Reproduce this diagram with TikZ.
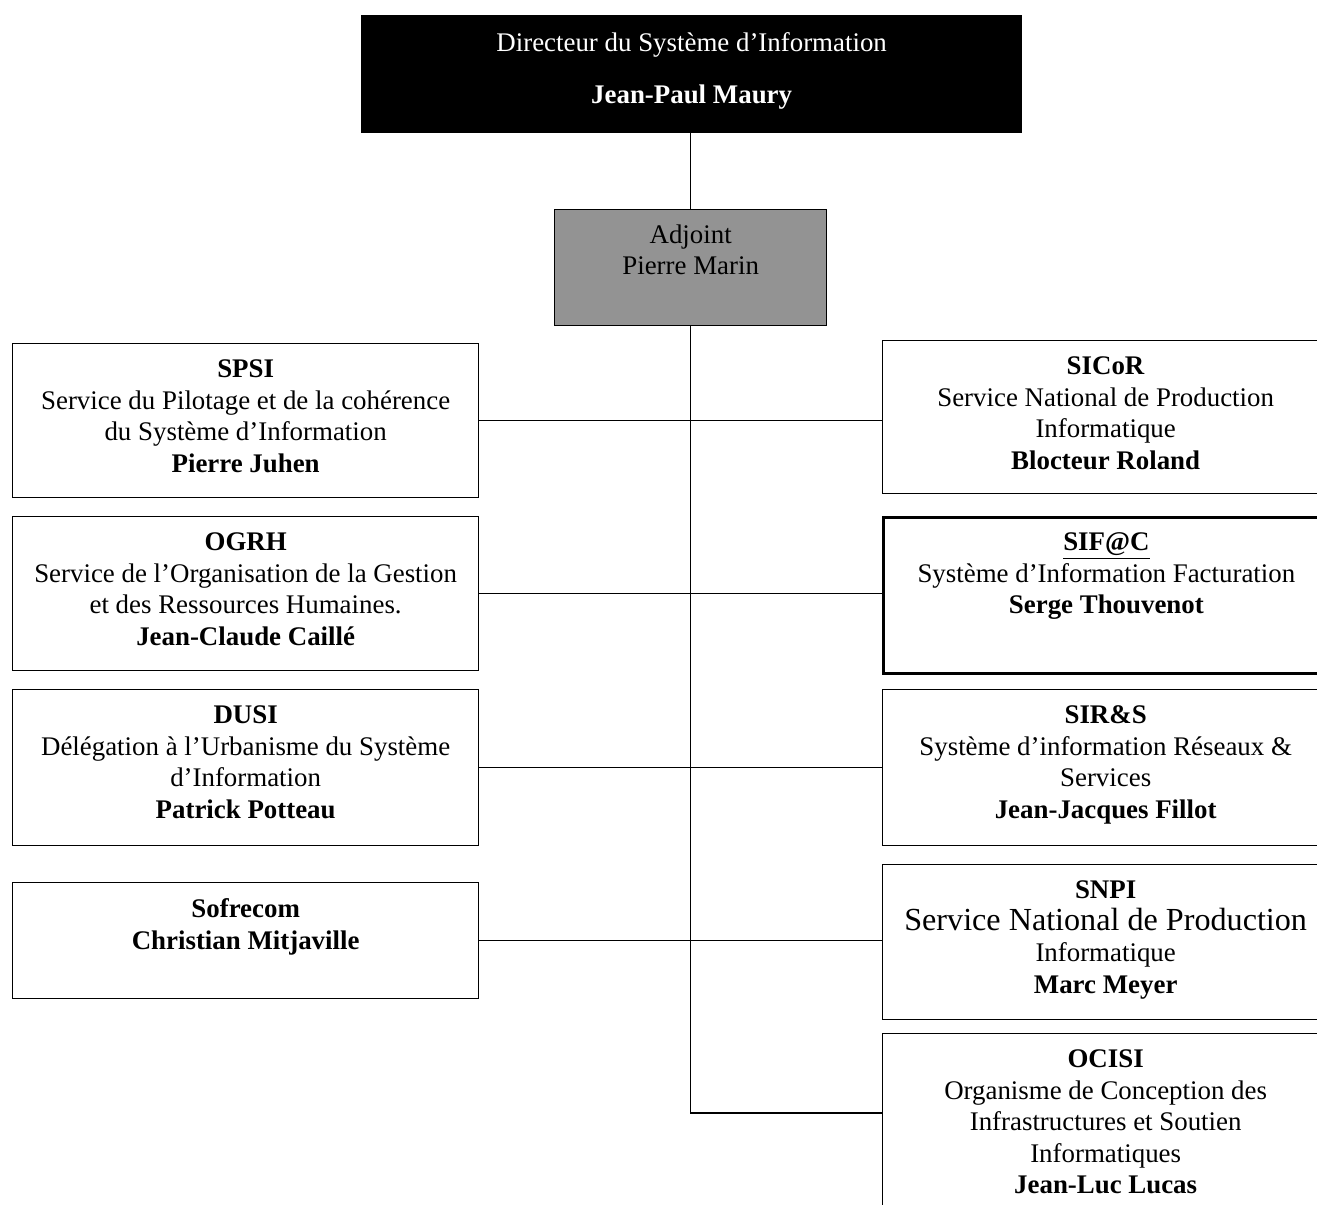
\documentclass[tikz,border=0pt]{standalone}
\usepackage{fontspec}
\setmainfont{Liberation Serif}
\usetikzlibrary{positioning}
\tikzset{
  unitbox/.style={draw, line width=0.8pt, anchor=north west, inner sep=0pt},
  leftbox/.style={unitbox, minimum width=9.32cm},
  rightbox/.style={unitbox, minimum width=8.92cm},
  unittext/.style={inner sep=0pt, align=center, font=\fontsize{15.3}{17.9}\selectfont},
  link/.style={line width=0.8pt},
}

\begin{document}
\begin{tikzpicture}[x=0.02cm, y=-0.02cm]
  \useasboundingbox (0,0) rectangle (1317,1204);

  % direction
  \node[unitbox, fill=black, minimum width=13.2cm, minimum height=2.34cm] (dsi) at (361,15) {};
  \node[unittext, text=white, below=0.34cm of dsi.north] (dsitxt)
    {Directeur du Système d’Information\\[0.42cm]\textbf{Jean-Paul Maury}};

  \node[unitbox, fill=gray!85, minimum width=5.44cm, minimum height=2.32cm] (adj) at (554,209) {};
  \node[unittext, below=0.3cm of adj.north] (adjtxt) {Adjoint\\Pierre Marin};

  % services a gauche
  \node[leftbox, minimum height=3.08cm] (spsi) at (12,343) {};
  \node[unittext, below=0.33cm of spsi.north] (spsitxt)
    {\textbf{SPSI}\\Service du Pilotage et de la cohérence\\du Système d’Information\\\textbf{Pierre Juhen}};

  \node[leftbox, minimum height=3.08cm] (ogrh) at (12,516) {};
  \node[unittext, below=0.33cm of ogrh.north] (ogrhtxt)
    {\textbf{OGRH}\\Service de l’Organisation de la Gestion\\et des Ressources Humaines.\\\textbf{Jean-Claude Caillé}};

  \node[leftbox, minimum height=3.12cm] (dusi) at (12,689) {};
  \node[unittext, below=0.33cm of dusi.north] (dusitxt)
    {\textbf{DUSI}\\Délégation à l’Urbanisme du Système\\d’Information\\\textbf{Patrick Potteau}};

  \node[leftbox, minimum height=2.32cm] (sofre) at (12,882) {};
  \node[unittext, below=0.33cm of sofre.north] (sofretxt)
    {\textbf{Sofrecom}\\\textbf{Christian Mitjaville}};

  % services a droite
  \node[rightbox, minimum height=3.06cm] (sicor) at (882,340) {};
  \node[unittext, below=0.33cm of sicor.north] (sicortxt)
    {\textbf{SICoR}\\Service National de Production\\Informatique\\\textbf{Blocteur Roland}};

  \node[rightbox, line width=1.6pt, minimum height=3.12cm] (sifac) at (882,516) {};
  \node[unittext, below=0.33cm of sifac.north] (sifactxt)
    {\underline{\textbf{SIF@C}}\\Système d’Information Facturation\\\textbf{Serge Thouvenot}};

  \node[rightbox, minimum height=3.12cm] (sirs) at (882,689) {};
  \node[unittext, below=0.33cm of sirs.north] (sirstxt)
    {\textbf{SIR\&S}\\Système d’information Réseaux \&\\Services\\\textbf{Jean-Jacques Fillot}};

  \node[rightbox, minimum height=3.1cm] (snpi) at (882,864) {};
  \node[unittext, below=0.33cm of snpi.north] (snpitxt)
    {\textbf{SNPI}\\{\fontsize{18.3}{18}\selectfont Service National de Production}\\Informatique\\\textbf{Marc Meyer}};

  \node[rightbox, minimum height=4cm] (ocisi) at (882,1033) {};
  \node[unittext, below=0.33cm of ocisi.north] (ocisitxt)
    {\textbf{OCISI}\\Organisme de Conception des\\Infrastructures et Soutien\\Informatiques\\\textbf{Jean-Luc Lucas}};
  \coordinate (ocisiin) at (882,1113);

  % liaisons
  \draw[link] (adj.north |- dsi.south) -- (adj.north);
  \draw[link] (adj.south) |- (ocisiin);
  \draw[link] (spsi.east) -- (spsi.east -| sicor.west);
  \draw[link] (ogrh.east) -- (ogrh.east -| sifac.west);
  \draw[link] (dusi.east) -- (dusi.east -| sirs.west);
  \draw[link] (sofre.east) -- (sofre.east -| snpi.west);
\end{tikzpicture}
\end{document}
